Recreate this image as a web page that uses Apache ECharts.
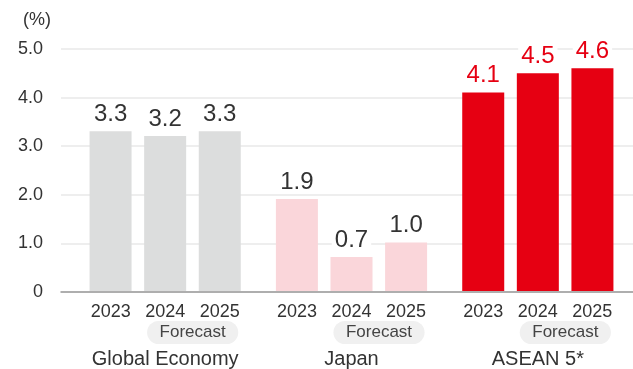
<!DOCTYPE html>
<html><head><meta charset="utf-8">
<script src="https://cdn.jsdelivr.net/npm/echarts@6/dist/echarts.min.js"></script>
<style>html,body{margin:0;padding:0;background:#fff}#c{width:633px;height:369px}</style>
</head><body><div id="c"></div>
<script>
const groups = ['Global Economy', 'Japan', 'ASEAN 5*'];
const years = ['2023', '2024', '2025'];
const forecastLabel = 'Forecast';
const values2023 = [3.3, 1.9, 4.1];
const values2024 = [3.2, 0.7, 4.5];
const values2025 = [3.3, 1.0, 4.6];
const yTicks = [0, 1, 2, 3, 4, 5];
const unitLabel = '(%)';

const groupColors = ['#dcdddd', '#fad6da', '#e60012'];
const labelColors = ['#333333', '#333333', '#e60012'];
const FF = '"Liberation Sans", Arial, sans-serif';

const chart = echarts.init(document.getElementById('c'), null, {renderer: 'canvas'});
const seriesValues = [values2023, values2024, values2025];

const option = {
  animation: false,
  title: {text: unitLabel, left: 18, top: 6, textStyle: {fontSize: 18, fontWeight: 'normal', color: '#333', fontFamily: FF}},
  grid: [
    {left: 61, right: 0, top: 49, bottom: 77},
    {left: 72, right: 2, top: 49, bottom: 77}
  ],
  xAxis: [
    {gridIndex: 0, type: 'value', min: 0, max: 1, axisLabel: {show: false}, axisTick: {show: false}, splitLine: {show: false},
     axisLine: {show: true, lineStyle: {color: '#999', width: 1.5}}},
    {gridIndex: 1, type: 'category', data: groups, axisLine: {show: false}, axisTick: {show: false},
     axisLabel: {
       margin: 9,
       formatter: v => `{y|${years[0]}}{y|${years[1]}}{y|${years[2]}}\n{sp|\u00a0}{f|${forecastLabel}}\n{g|${v}}`,
       rich: {
         y: {width: 54.5, align: 'center', fontSize: 18, color: '#333', lineHeight: 24, fontFamily: FF},
         sp: {width: 55, fontSize: 15, lineHeight: 17},
         f: {fontSize: 17, color: '#444', backgroundColor: '#f0f0f0', borderRadius: 12, padding: [3, 12.5], lineHeight: 17, fontFamily: FF},
         g: {fontSize: 20, color: '#333', lineHeight: 36, fontFamily: FF}
       }
     }}
  ],
  yAxis: [
    {gridIndex: 0, type: 'value', min: yTicks[0], max: yTicks[yTicks.length - 1], interval: 1,
     axisLine: {show: false}, axisTick: {show: false},
     axisLabel: {margin: 18, fontSize: 18, color: '#333', fontFamily: FF, formatter: v => v === 0 ? '0' : v.toFixed(1)},
     splitLine: {show: true, lineStyle: {color: '#e8e8e8', width: 1.5}}},
    {gridIndex: 1, type: 'value', min: yTicks[0], max: yTicks[yTicks.length - 1], interval: 1, show: false, splitLine: {show: false}}
  ],
  series: seriesValues.map((vals, si) => ({
    type: 'bar', name: years[si], xAxisIndex: 1, yAxisIndex: 1,
    barWidth: 42, barGap: '30%',
    data: vals.map((v, gi) => ({value: v, itemStyle: {color: groupColors[gi]}, label: {color: labelColors[gi]}})),
    label: {show: true, position: 'top', distance: 5, fontSize: 24, fontFamily: FF, color: '#333',
      backgroundColor: '#fff', padding: [0, 3], formatter: p => p.value.toFixed(1)}
  }))
};
chart.setOption(option);
</script></body></html>
